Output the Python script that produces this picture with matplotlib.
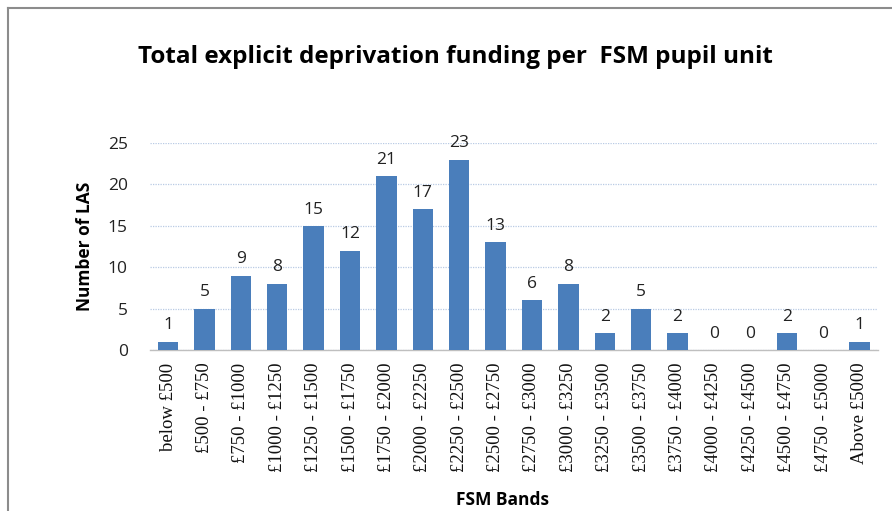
import matplotlib
matplotlib.use('Agg')
import matplotlib.pyplot as plt
from matplotlib.lines import Line2D
import numpy as np

# *** Datos ***
bandas = [
    "below £500", "£500 - £750", "£750 - £1000", "£1000 - £1250",
    "£1250 - £1500", "£1500 - £1750", "£1750 - £2000", "£2000 - £2250",
    "£2250 - £2500", "£2500 - £2750", "£2750 - £3000", "£3000 - £3250",
    "£3250 - £3500", "£3500 - £3750", "£3750 - £4000", "£4000 - £4250",
    "£4250 - £4500", "£4500 - £4750", "£4750 - £5000", "Above £5000",
]
num_las = [1, 5, 9, 8, 15, 12, 21, 17, 23, 13, 6, 8, 2, 5, 2, 0, 0, 2, 0, 1]
y_ticks = [0, 5, 10, 15, 20, 25]

C_BAR  = "#4a7ebb"
C_GRID = "#b9cbe4"
SANS   = ["Open Sans", "DejaVu Sans"]
SERIF  = ["Liberation Serif", "DejaVu Serif"]

fig = plt.figure(figsize=(8.92, 5.11), dpi=100)
ax = fig.add_axes([0.168, 0.315, 0.816, 0.405])

x = np.arange(len(bandas))
bars = ax.bar(x, num_las, width=0.56, color=C_BAR, zorder=3)

# Etiquetas sobre las barras
for bar, v in zip(bars, num_las):
    ax.annotate(f"{v}", (bar.get_x() + bar.get_width() / 2, v),
                xytext=(0, 6), textcoords="offset points",
                ha="center", va="bottom", fontsize=12.5, family=SANS,
                color="#222222")

ax.set_xlim(-0.5, len(bandas) - 0.5)
ax.set_ylim(0, 25)
ax.set_yticks(y_ticks)
ax.set_yticklabels([str(t) for t in y_ticks], fontsize=12.5, family=SANS, color="#222222")
ax.set_xticks(x)
ax.set_xticklabels(bandas, rotation=90, fontsize=13.5, family=SERIF, color="#111111")
ax.tick_params(axis="x", length=0, pad=9)
ax.tick_params(axis="y", length=0, pad=16)

ax.grid(axis="y", color=C_GRID, linestyle=(0, (1, 1)), linewidth=0.9, zorder=0)
for s in ("top", "right", "left"):
    ax.spines[s].set_visible(False)
ax.spines["bottom"].set_color("#bfbfbf")
ax.spines["bottom"].set_linewidth(1.0)

ax.set_ylabel("Number of LAS", fontsize=12.5, family=SANS, fontweight="bold", labelpad=10)
fig.text(0.563, 0.022, "FSM Bands", ha="center", va="center",
         fontsize=12.5, family=SANS, fontweight="bold")
fig.text(0.511, 0.889, "Total explicit deprivation funding per  FSM pupil unit",
         ha="center", va="center", fontsize=17.5, family=SANS, fontweight="bold")

# Marco gris de la captura
fig.add_artist(Line2D([0.009, 1.0], [0.984, 0.984], color="#8c8c8c", linewidth=1.5,
                      transform=fig.transFigure))
fig.add_artist(Line2D([0.009, 0.009], [0.0, 0.984], color="#8c8c8c", linewidth=1.5,
                      transform=fig.transFigure))

fig.savefig("out.png", dpi=100)
